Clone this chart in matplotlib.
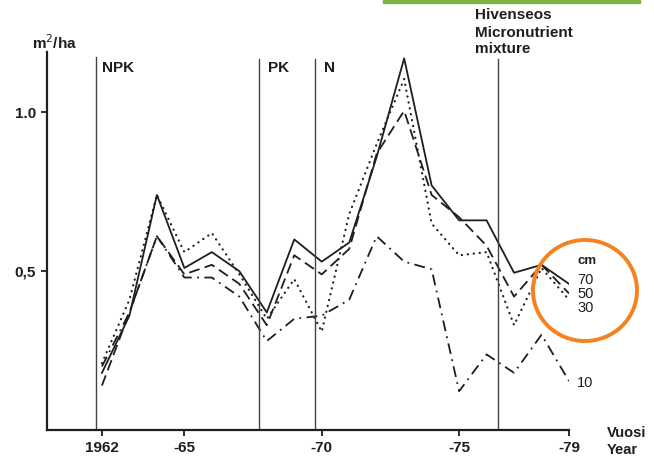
import matplotlib
matplotlib.use("Agg")
import matplotlib.pyplot as plt
from matplotlib.patches import Ellipse, Rectangle

plt.rcParams['font.family'] = ['Liberation Sans', 'DejaVu Sans']

years = list(range(1962, 1980))
cm70 = [0.18, 0.36, 0.74, 0.51, 0.56, 0.50, 0.37, 0.60, 0.53, 0.59, 0.86, 1.17, 0.77, 0.66, 0.66, 0.495, 0.52, 0.46]
cm50 = [0.14, 0.37, 0.61, 0.49, 0.52, 0.46, 0.33, 0.55, 0.49, 0.57, 0.87, 1.005, 0.74, 0.67, 0.58, 0.42, 0.52, 0.43]
cm30 = [0.21, 0.41, 0.74, 0.56, 0.62, 0.49, 0.35, 0.475, 0.31, 0.68, 0.90, 1.105, 0.65, 0.55, 0.56, 0.33, 0.51, 0.41]
cm10 = [0.20, 0.37, 0.61, 0.48, 0.48, 0.42, 0.28, 0.35, 0.36, 0.41, 0.61, 0.53, 0.506, 0.122, 0.238, 0.18, 0.30, 0.154]

series_labels = ["70", "50", "30", "10"]
events = [1961.78, 1967.7, 1969.75, 1976.4]
event_labels = ["NPK", "PK", "N", "Hivenseos\nMicronutrient\nmixture"]
xtick_vals = [1962, 1965, 1970, 1975, 1979]
xtick_labels = ["1962", "-65", "-70", "-75", "-79"]
ytick_vals = [0.5, 1.0]
ytick_labels = ["0,5", "1.0"]

W, H = 654, 457
fig = plt.figure(figsize=(W/100, H/100), dpi=100)
ax = fig.add_axes([47/W, (H-430)/H, (569-47)/W, (430-52)/H])
ax.set_xlim(1960, 1979)
ax.set_ylim(0, 1.19)

ink = "#1e1e1e"
lw = 1.3
ax.plot(years, cm70, color=ink, lw=lw, linestyle='-')
ax.plot(years, cm50, color=ink, lw=lw, linestyle=(0, (6, 3)))
ax.plot(years, cm30, color=ink, lw=1.6, linestyle=(0, (0.1, 2.6)), dash_capstyle='round')
ax.plot(years, cm10, color=ink, lw=lw, linestyle=(0, (6, 3, 1, 3)))

for ev in events:
    top = 1.175 if ev < 1962 else 1.168
    ax.plot([ev, ev], [0, top], color="#444444", lw=1.0)

txt = dict(color=ink, fontweight='bold', fontsize=11)
ax.text(1962.0, 1.14, event_labels[0], ha='left', va='center', **txt)
ax.text(1968.05, 1.14, event_labels[1], ha='left', va='center', **txt)
ax.text(1970.1, 1.14, event_labels[2], ha='left', va='center', **txt)
for line, base in zip(event_labels[3].split("\n"), [19, 37, 53]):
    fig.text(475/W, 1 - base/H, line, ha='left', va='baseline', **txt)

for s in ['top', 'right']:
    ax.spines[s].set_visible(False)
for s in ['left', 'bottom']:
    ax.spines[s].set_linewidth(1.6)
    ax.spines[s].set_color(ink)
ax.spines['bottom'].set_bounds(1960, 1979)

ax.set_xticks(xtick_vals)
ax.set_xticklabels(xtick_labels)
ax.set_yticks(ytick_vals)
ax.set_yticklabels(ytick_labels)
ax.tick_params(axis='both', direction='out', length=4, width=1.3, color=ink,
               labelsize=11, labelcolor=ink, pad=4)
for lab in ax.get_xticklabels() + ax.get_yticklabels():
    lab.set_fontweight('bold')

fig.text(32/W, 1 - 43/H, "m$^{2}$/ha", ha='left', va='center', color=ink,
         fontweight='bold', fontsize=11)
fig.text(607/W, 1 - 433/H, "Vuosi", ha='left', va='center', color=ink,
         fontweight='bold', fontsize=10.5)
fig.text(607/W, 1 - 450/H, "Year", ha='left', va='center', color=ink,
         fontweight='bold', fontsize=10.5)

fig.text(577/W, 1 - 261/H, "cm", ha='left', va='center', color=ink, fontweight='bold', fontsize=9.5)
lab_y = [280.5, 294, 307.5, 383]
for lbl, yy in zip(series_labels, lab_y):
    fig.text(577/W, 1 - yy/H, lbl, ha='left', va='center', color=ink, fontsize=10.5)

# green strip at top and orange highlight circle
fig.patches.append(Rectangle((383/W, 1 - 3/H), (640-383)/W, 3/H, transform=fig.transFigure,
                             color="#7cb342", zorder=5))
fig.patches.append(Ellipse((585/W, 1 - 290.5/H), 104/W, 101/H, transform=fig.transFigure,
                           fill=False, edgecolor="#f5821f", lw=2.8, zorder=6))

fig.savefig("out.png", dpi=100)
